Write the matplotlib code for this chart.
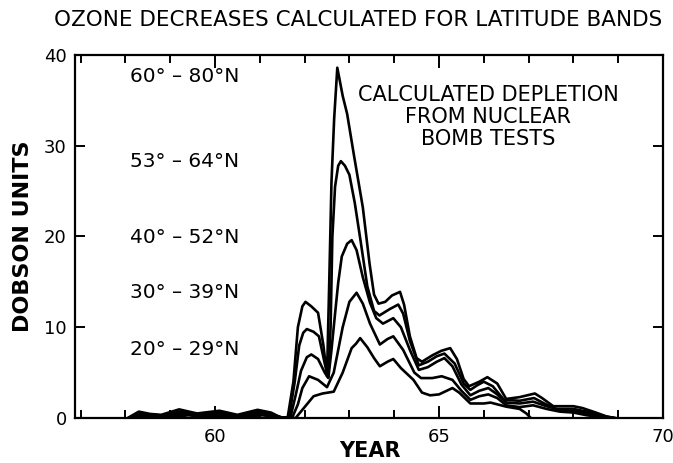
import matplotlib
matplotlib.use("Agg")
import matplotlib.pyplot as plt
from matplotlib.ticker import MultipleLocator, FixedLocator

# ---------------- data ----------------
x_6080 = [58.05, 58.3, 58.55, 58.8, 59.2, 59.6, 60.1, 60.5, 60.95, 61.25, 61.45, 61.62,
          61.75, 61.85, 61.95, 62.02, 62.15, 62.3, 62.42, 62.5, 62.55, 62.6, 62.66, 62.73,
          62.85, 62.95, 63.1, 63.3, 63.45, 63.55, 63.65, 63.8, 63.95, 64.13, 64.22, 64.35,
          64.5, 64.62, 64.85, 65.05, 65.25, 65.4, 65.55, 65.67, 65.9, 66.08, 66.3, 66.5,
          66.8, 67.14, 67.3, 67.55, 68.0, 68.2, 68.5, 68.75, 68.95]
y_6080 = [0.0, 0.7, 0.45, 0.35, 0.95, 0.5, 0.8, 0.35, 0.9, 0.6, 0.1, 0.0,
          4.0, 10.0, 12.3, 12.8, 12.3, 11.6, 8.0, 4.6, 15.0, 26.0, 33.0, 38.6,
          35.5, 33.5, 29.0, 23.2, 17.0, 13.6, 12.6, 12.8, 13.5, 13.9, 12.5, 9.0,
          6.6, 6.2, 6.9, 7.4, 7.7, 6.5, 4.3, 3.5, 4.0, 4.5, 3.8, 2.1,
          2.3, 2.7, 2.2, 1.3, 1.3, 1.1, 0.6, 0.15, 0.0]

x_5364 = [58.1, 58.35, 58.6, 58.85, 59.25, 59.65, 60.1, 60.5, 60.95, 61.25, 61.45, 61.65,
          61.78, 61.88, 61.97, 62.05, 62.2, 62.32, 62.45, 62.53, 62.58, 62.62, 62.68, 62.75,
          62.81, 62.9, 63.0, 63.12, 63.25, 63.4, 63.55, 63.67, 63.9, 64.09, 64.2, 64.35,
          64.55, 64.75, 64.95, 65.12, 65.35, 65.55, 65.7, 65.85, 66.0, 66.2, 66.45,
          66.8, 67.12, 67.35, 67.6, 68.0, 68.3, 68.6, 68.9]
y_5364 = [0.0, 0.5, 0.35, 0.25, 0.75, 0.35, 0.6, 0.25, 0.7, 0.45, 0.05, 0.0,
          4.0, 8.0, 9.4, 9.8, 9.5, 9.0, 6.0, 4.5, 10.0, 20.0, 25.5, 27.8,
          28.3, 27.8, 26.8, 23.7, 19.5, 14.5, 11.8, 11.3, 12.0, 12.5, 11.5, 8.5,
          5.8, 6.2, 6.8, 7.1, 6.0, 3.8, 3.1, 3.6, 4.0, 3.5, 2.0,
          1.9, 2.2, 1.6, 1.0, 1.0, 0.7, 0.3, 0.0]

x_4052 = [58.15, 58.4, 58.65, 58.9, 59.3, 59.7, 60.15, 60.55, 61.0, 61.3, 61.5, 61.68,
          61.8, 61.92, 62.05, 62.15, 62.3, 62.45, 62.53, 62.6, 62.68, 62.75, 62.83, 62.95,
          63.05, 63.16, 63.3, 63.46, 63.6, 63.75, 63.98, 64.15, 64.35, 64.55, 64.75, 64.95,
          65.12, 65.3, 65.5, 65.7, 65.9, 66.1, 66.3, 66.5, 66.8, 67.1, 67.4, 67.7,
          68.0, 68.3, 68.6, 68.9]
y_4052 = [0.0, 0.4, 0.25, 0.2, 0.6, 0.3, 0.5, 0.2, 0.55, 0.35, 0.05, 0.0,
          2.5, 5.2, 6.7, 7.0, 6.5, 5.0, 4.4, 7.5, 11.5, 14.9, 17.8, 19.2,
          19.6, 18.5, 15.5, 12.7, 11.0, 10.4, 11.0, 10.0, 7.5, 5.3, 5.6, 6.2,
          6.6, 5.7, 3.7, 2.5, 3.0, 3.3, 2.6, 1.7, 1.6, 1.8, 1.3, 0.9,
          0.8, 0.5, 0.2, 0.0]

x_3039 = [58.2, 58.45, 58.7, 59.0, 59.35, 59.75, 60.2, 60.6, 61.0, 61.3, 61.5, 61.72,
          61.85, 61.95, 62.1, 62.3, 62.5, 62.65, 62.85, 63.0, 63.16, 63.3, 63.46, 63.68,
          63.85, 63.98, 64.2, 64.45, 64.6, 64.85, 65.06, 65.3, 65.5, 65.7, 65.9, 66.1,
          66.3, 66.5, 66.8, 67.1, 67.4, 67.7, 68.0, 68.3, 68.7, 68.9]
y_3039 = [0.0, 0.3, 0.2, 0.15, 0.45, 0.2, 0.35, 0.15, 0.4, 0.25, 0.05, 0.0,
          1.5, 3.3, 4.6, 4.2, 3.4, 5.0, 10.0, 12.8, 13.8, 12.6, 10.4, 8.1,
          8.7, 9.0, 7.5, 5.0, 4.4, 4.4, 4.6, 4.2, 3.0, 2.0, 2.4, 2.6,
          2.2, 1.4, 1.2, 1.4, 1.0, 0.7, 0.6, 0.3, 0.05, 0.0]

x_2029 = [58.3, 58.55, 58.8, 59.1, 59.4, 59.8, 60.25, 60.65, 61.05, 61.35, 61.55, 61.8,
          62.0, 62.2, 62.4, 62.65, 62.85, 63.05, 63.15, 63.24, 63.4, 63.55, 63.68, 63.85,
          63.98, 64.15, 64.43, 64.62, 64.8, 65.0, 65.3, 65.45, 65.7, 66.0, 66.15, 66.5,
          66.8, 66.95, 67.05]
y_2029 = [0.0, 0.2, 0.1, 0.1, 0.3, 0.1, 0.25, 0.1, 0.3, 0.15, 0.0, 0.0,
          1.2, 2.4, 2.7, 2.9, 5.0, 7.7, 8.2, 8.8, 7.8, 6.6, 5.7, 6.2,
          6.5, 5.5, 4.2, 2.8, 2.5, 2.6, 3.3, 2.8, 1.6, 1.6, 1.7, 1.25,
          1.0, 0.5, 0.0]

series = [(x_6080, y_6080), (x_5364, y_5364), (x_4052, y_4052),
          (x_3039, y_3039), (x_2029, y_2029)]
band_labels = ["60° – 80°N", "53° – 64°N", "40° – 52°N", "30° – 39°N", "20° – 29°N"]
band_label_y = [37.6, 28.3, 19.9, 13.8, 7.5]

x_major = [60, 65, 70]
y_major = [0, 10, 20, 30, 40]

# ---------------- figure ----------------
fig = plt.figure(figsize=(6.73, 4.63), dpi=100)
ax = fig.add_axes([75/673, 1-418/463, (663-75)/673, (418-55)/463])

for xs, ys in series:
    ax.plot(xs, ys, color="black", lw=1.9, solid_joinstyle="round",
            solid_capstyle="round")

ax.set_xlim(56.875, 70)
ax.set_ylim(0, 40)

for s in ax.spines.values():
    s.set_linewidth(1.6)

ax.xaxis.set_major_locator(FixedLocator(x_major))
ax.xaxis.set_minor_locator(MultipleLocator(1))
ax.yaxis.set_major_locator(FixedLocator(y_major))
ax.tick_params(axis="x", which="major", direction="in", length=9, width=1.4,
               top=True, labelsize=13, pad=7)
ax.tick_params(axis="x", which="minor", direction="in", length=6, width=1.4, top=True)
ax.tick_params(axis="y", which="major", direction="in", length=7, width=1.4,
               right=True, labelsize=13, pad=6)
ax.set_xticklabels([str(v) for v in x_major])
ax.set_yticklabels([str(v) for v in y_major])

ax.set_ylabel("DOBSON UNITS", fontsize=16, fontweight="bold", labelpad=8)
fig.text(370/673, 1-451/463, "YEAR", fontsize=15, fontweight="bold",
         ha="center", va="center")

for lab, yy in zip(band_labels, band_label_y):
    ax.text(58.1, yy, lab, fontsize=14.5, ha="left", va="center")

ax.text(66.1, 33.2, "CALCULATED DEPLETION\nFROM NUCLEAR\nBOMB TESTS",
        fontsize=15, ha="center", va="center", linespacing=1.12)

fig.text(358/673, 1-20/463, "OZONE DECREASES CALCULATED FOR LATITUDE BANDS",
         fontsize=15.5, ha="center", va="center")

fig.savefig("out.png", dpi=100)
